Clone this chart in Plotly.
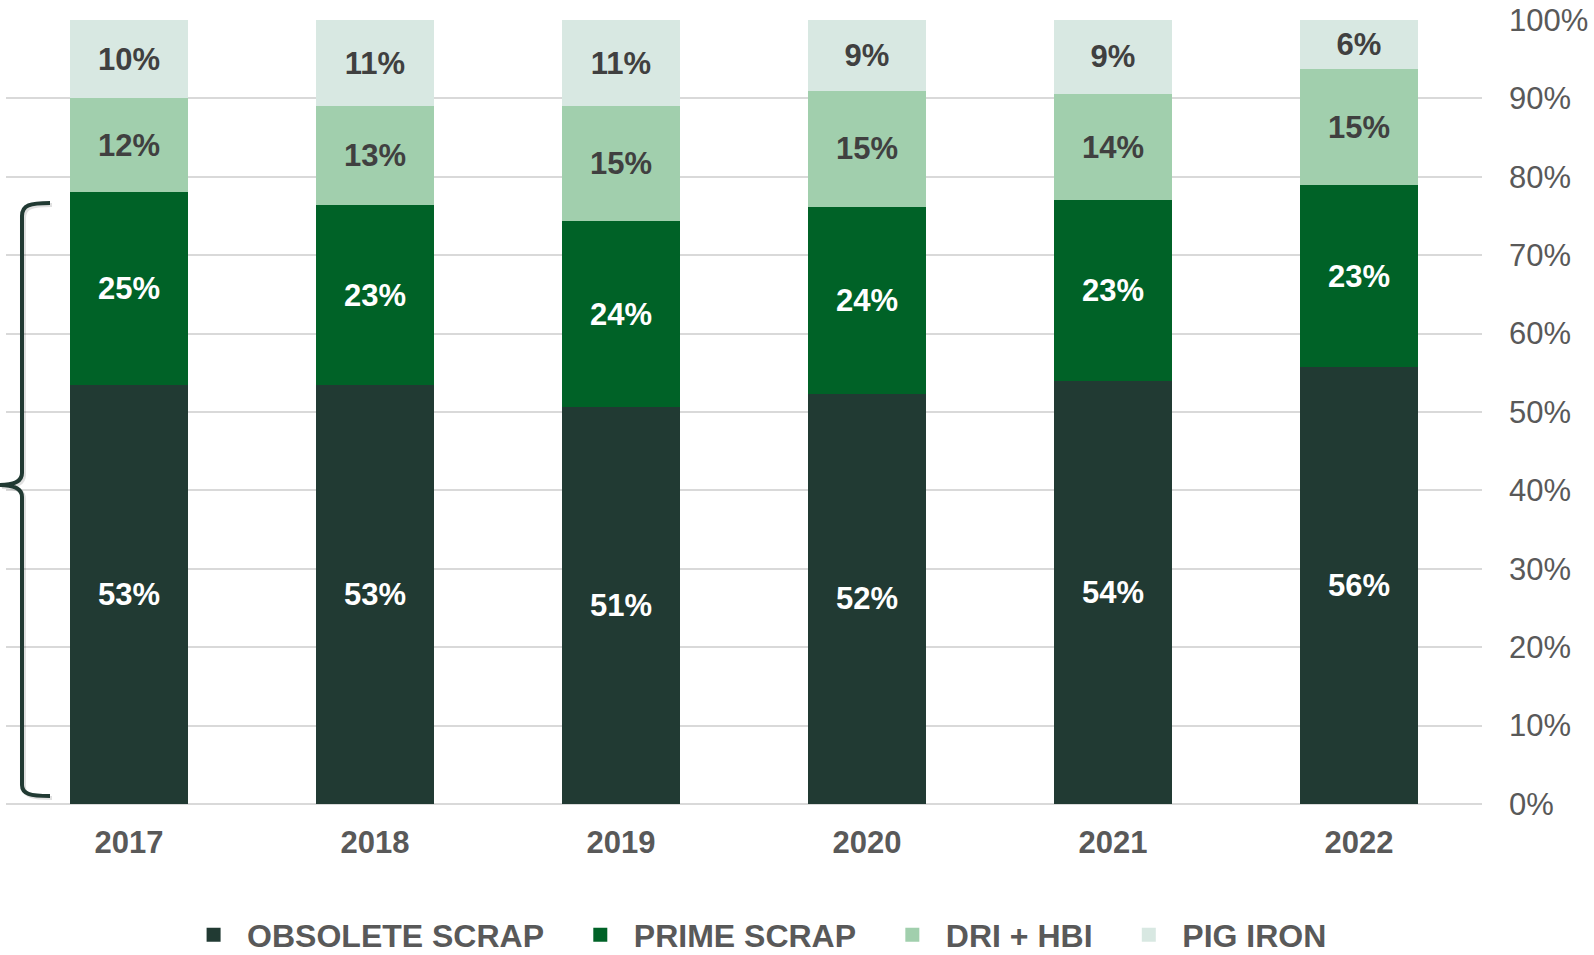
import plotly.graph_objects as go

# Share of metallic inputs by year (percent)
years = ["2017", "2018", "2019", "2020", "2021", "2022"]
obsolete_scrap = [53.4, 53.4, 50.6, 52.3, 54.0, 55.7]
prime_scrap = [24.7, 23.0, 23.8, 23.9, 23.0, 23.2]
dri_hbi = [11.9, 12.6, 14.6, 14.8, 13.6, 14.9]
pig_iron = [10.0, 11.0, 11.0, 9.0, 9.4, 6.2]

series_names = ["OBSOLETE SCRAP", "PRIME SCRAP", "DRI + HBI", "PIG IRON"]
y_ticks = [0, 10, 20, 30, 40, 50, 60, 70, 80, 90, 100]
y_tick_text = ["0%", "10%", "20%", "30%", "40%", "50%", "60%", "70%", "80%", "90%", "100%"]

FONT = "Liberation Sans, Arial, sans-serif"
GREY = "#595959"
NB = "\u00a0"

series = [
    (series_names[0], obsolete_scrap, "#213a33", "#ffffff"),
    (series_names[1], prime_scrap, "#006227", "#ffffff"),
    (series_names[2], dri_hbi, "#a1cfad", "#404040"),
    (series_names[3], pig_iron, "#d8e8e2", "#404040"),
]

fig = go.Figure()
for name, vals, color, txt_color in series:
    fig.add_trace(go.Bar(
        x=years,
        y=vals,
        name=name,
        showlegend=False,
        marker=dict(color=color, line=dict(width=0)),
        width=0.48,
        texttemplate="%{y:.0f}%",
        textposition="inside",
        insidetextanchor="middle",
        constraintext="none",
        textangle=0,
        textfont=dict(family=FONT, size=31, color=txt_color, weight="bold"),
        hoverinfo="skip",
    ))

# Legend entries with square swatches
for name, vals, color, txt_color in series:
    fig.add_trace(go.Scatter(
        x=[None], y=[None],
        mode="markers",
        name=name + NB * 2,
        marker=dict(symbol="square", size=14, color=color),
        showlegend=True,
        hoverinfo="skip",
    ))

# Plot-area geometry in pixels (used to place the bracket)
W, H = 1594, 955
L, R, T, B = 6, 112, 20, 151
pw, ph = W - L - R, H - T - B


def px(x):
    return (x - L) / pw


def py(y):
    return (H - B - y) / ph


def brace_path(dx=0, dy=0):
    pts = [
        ("M", [(50, 203)]),
        ("C", [(30, 203), (22, 205), (22, 216)]),
        ("L", [(22, 473)]),
        ("C", [(22, 481), (14, 485), (0, 485)]),
        ("C", [(14, 485), (22, 489), (22, 497)]),
        ("L", [(22, 785)]),
        ("C", [(22, 794), (30, 796), (50, 796)]),
    ]
    out = []
    for cmd, coords in pts:
        out.append(cmd + " " + " ".join(f"{px(x + dx):.5f},{py(y + dy):.5f}" for x, y in coords))
    return " ".join(out)


fig.add_shape(type="path", path=brace_path(2, 2), xref="paper", yref="paper",
              line=dict(color="rgba(0,0,0,0.12)", width=4), layer="above")
fig.add_shape(type="path", path=brace_path(), xref="paper", yref="paper",
              line=dict(color="#213a33", width=4), layer="above")

fig.update_layout(
    width=W, height=H,
    margin=dict(l=L, r=R, t=T, b=B, autoexpand=False),
    barmode="stack",
    bargap=0.52,
    plot_bgcolor="#ffffff",
    paper_bgcolor="#ffffff",
    showlegend=True,
    legend=dict(
        orientation="h",
        x=px(186) - 0.004, xanchor="left",
        y=py(935), yanchor="middle",
        traceorder="normal",
        itemwidth=57,
        font=dict(family=FONT, size=32, color=GREY, weight="bold"),
        bgcolor="rgba(0,0,0,0)",
    ),
    xaxis=dict(
        range=[-0.5, 5.5],
        showgrid=False,
        showline=False,
        ticks="",
        tickfont=dict(family=FONT, size=31, color=GREY, weight="bold"),
        ticklabelstandoff=17,
        fixedrange=True,
    ),
    yaxis=dict(
        side="right",
        range=[0, 100],
        tickvals=y_ticks,
        ticktext=y_tick_text,
        showgrid=True,
        gridcolor="#d9d9d9",
        gridwidth=2,
        zeroline=True,
        zerolinecolor="#d9d9d9",
        zerolinewidth=2,
        showline=False,
        ticks="",
        ticklabelstandoff=26,
        tickfont=dict(family=FONT, size=31, color=GREY),
        fixedrange=True,
    ),
)

fig.write_html("out.html")
